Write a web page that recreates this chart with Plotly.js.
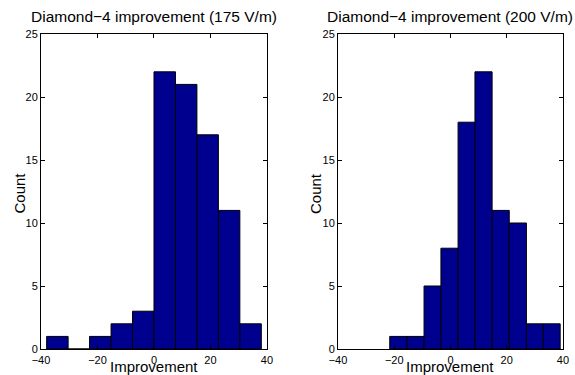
<!DOCTYPE html>
<html>
<head>
<meta charset="utf-8">
<script src="https://cdn.plot.ly/plotly-3.0.1.min.js"></script>
<style>html,body{margin:0;padding:0;background:#fff;}#chart{width:575px;height:375px;}</style>
</head>
<body>
<div id="chart"></div>
<script>
// Panel titles and axis labels
const titles = ["Diamond\u22124 improvement (175 V/m)", "Diamond\u22124 improvement (200 V/m)"];
const xLabel = "Improvement";
const yLabel = "Count";
// Bin edges
const edges175 = [-38, -30.4, -22.8, -15.2, -7.6, 0, 7.6, 15.2, 22.8, 30.4, 38];
const counts175 = [1, 0, 1, 2, 3, 22, 21, 17, 11, 2];
const edges200 = [-21.6, -15.5, -9.4, -3.4, 2.7, 8.7, 14.8, 20.9, 27.0, 33.0, 39.0];
const counts200 = [1, 1, 5, 8, 18, 22, 11, 10, 2, 2];
const xTicks = [-40, -20, 0, 20, 40];
const yTicks = [0, 5, 10, 15, 20, 25];

function centers(e){ const c=[]; for(let i=0;i<e.length-1;i++) c.push((e[i]+e[i+1])/2); return c; }
function widths(e){ const w=[]; for(let i=0;i<e.length-1;i++) w.push(e[i+1]-e[i]); return w; }

const barStyle = {color:'#00008F', line:{color:'#000000', width:1}};
const traces = [
  {type:'bar', x:centers(edges175), y:counts175, width:widths(edges175), marker:barStyle, xaxis:'x', yaxis:'y', hoverinfo:'x+y'},
  {type:'bar', x:centers(edges200), y:counts200, width:widths(edges200), marker:barStyle, xaxis:'x2', yaxis:'y2', hoverinfo:'x+y'}
];

const F = 'Liberation Sans, Arial, Helvetica, sans-serif';
const D1 = [0.0713,0.4643], D2 = [0.5878,0.9791], DY = [0.0693,0.9093];
function xax(dom, anchor){
  return {domain:dom, anchor:anchor, range:[-40,40], tickvals:xTicks, ticktext:xTicks.map(v=>v<0?'\u2212'+Math.abs(v):String(v)),
    ticks:'inside', ticklen:4, tickcolor:'#000', showline:true, linecolor:'#000', linewidth:1, mirror:'ticks',
    showgrid:false, zeroline:false, tickfont:{family:F,size:11,color:'#000'}, fixedrange:true, ticklabelstandoff:1,
    automargin:false};
}
function yax(anchor){
  return {domain:DY, anchor:anchor, range:[0,25], tickvals:yTicks,
    ticks:'inside', ticklen:4, tickcolor:'#000', showline:true, linecolor:'#000', linewidth:1, mirror:'ticks',
    showgrid:false, zeroline:false, tickfont:{family:F,size:11,color:'#000'}, fixedrange:true,
    automargin:false};
}
const tf = {family:F,size:15.5,color:'#000'};
const lf = {family:F,size:15,color:'#000'};
const yMid = 1-193/375;
const layout = {
  width:575, height:375, margin:{l:0,r:0,t:0,b:0}, paper_bgcolor:'#fff', plot_bgcolor:'#fff',
  showlegend:false, bargap:0,
  font:{family:F, color:'#000'},
  xaxis: xax(D1,'y'),
  yaxis: yax('x'),
  xaxis2: xax(D2,'y2'),
  yaxis2: yax('x2'),
  annotations:[
    {text:titles[0], xref:'paper', yref:'paper', x:(D1[0]+D1[1])/2, y:1-27/375, xanchor:'center', yanchor:'bottom', showarrow:false, font:tf},
    {text:titles[1], xref:'paper', yref:'paper', x:(D2[0]+D2[1])/2, y:1-27/375, xanchor:'center', yanchor:'bottom', showarrow:false, font:tf},
    {text:xLabel, xref:'paper', yref:'paper', x:(D1[0]+D1[1])/2, y:0, xanchor:'center', yanchor:'bottom', yshift:-2, showarrow:false, font:lf},
    {text:xLabel, xref:'paper', yref:'paper', x:(D2[0]+D2[1])/2, y:0, xanchor:'center', yanchor:'bottom', yshift:-2, showarrow:false, font:lf},
    {text:yLabel, xref:'paper', yref:'paper', x:18.5/575, y:yMid, xanchor:'center', yanchor:'middle', textangle:-90, showarrow:false, font:lf},
    {text:yLabel, xref:'paper', yref:'paper', x:315/575, y:yMid, xanchor:'center', yanchor:'middle', textangle:-90, showarrow:false, font:lf}
  ]
};
Plotly.newPlot('chart', traces, layout, {staticPlot:true, displayModeBar:false});
</script>
</body>
</html>
